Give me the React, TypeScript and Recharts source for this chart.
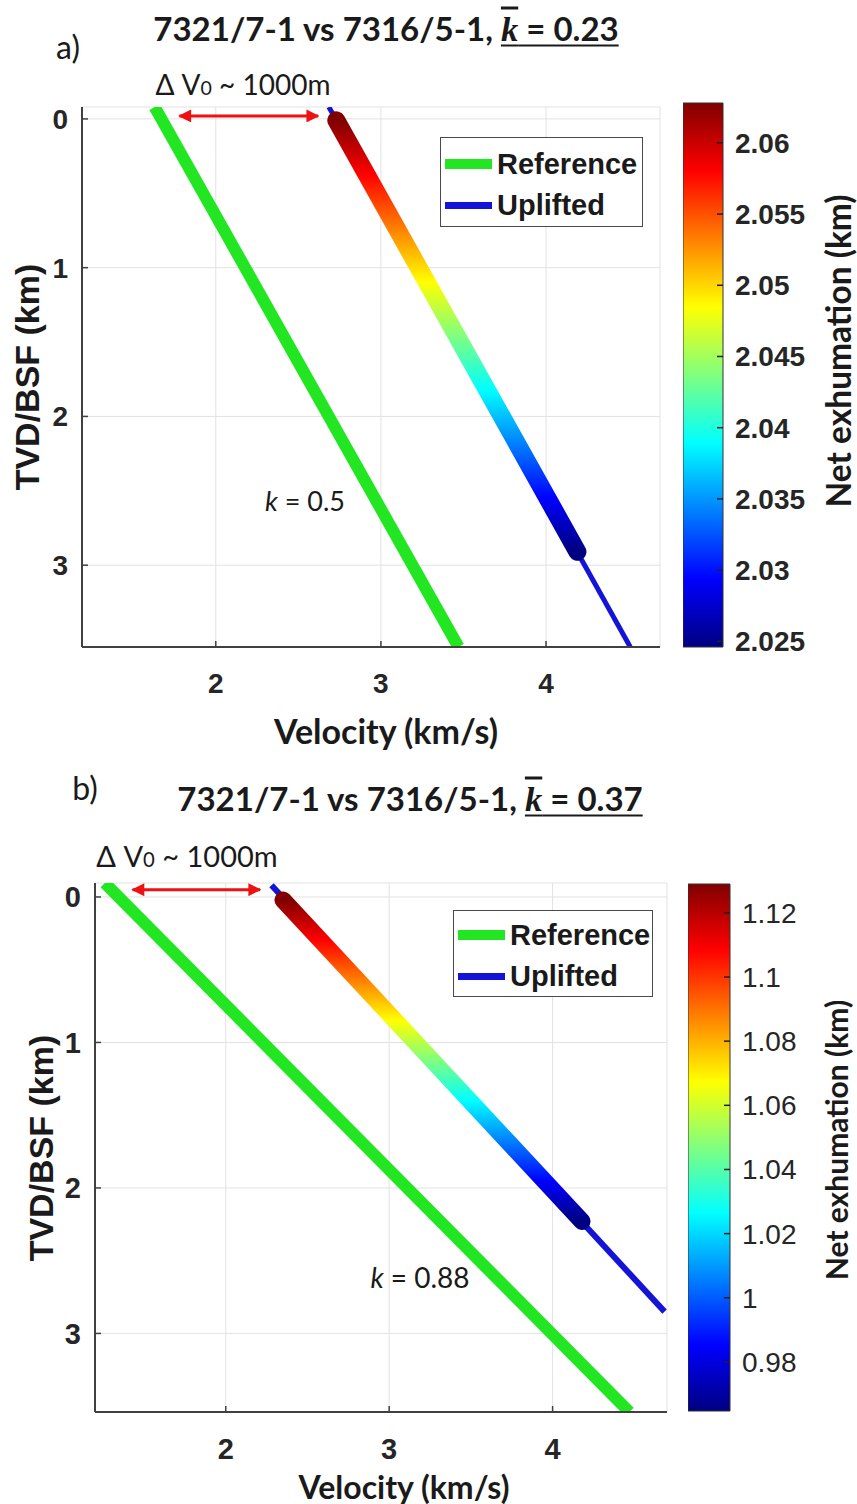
import React from 'react';
import {
  LineChart,
  Line,
  XAxis,
  YAxis,
  CartesianGrid,
  ReferenceLine,
  Legend,
  ComposedChart,
  ReferenceArea,
} from 'recharts';

// ---------- data ----------
const velocityTicks = [2, 3, 4];
const depthTicks = [0, 1, 2, 3];

// panel a
const velocityDomainA = [1.19, 4.69];
const depthDomainA = [-0.08, 3.55];
const referenceA = [
  { v: 1.63, z: -0.08 },
  { v: 3.47, z: 3.55 },
];
const upliftedA = [
  { v: 2.685, z: -0.08 },
  { v: 4.51, z: 3.55 },
];
const exhumationA = [
  { v: 2.73, z: 0.01 },
  { v: 4.19, z: 2.91 },
];
const deltaV0A = [
  { v: 1.78, z: -0.02 },
  { v: 2.62, z: -0.02 },
];
const exhumationTicksA = [2.025, 2.03, 2.035, 2.04, 2.045, 2.05, 2.055, 2.06];
const exhumationDomainA = [2.0246, 2.0628];

// panel b
const velocityDomainB = [1.2, 4.7];
const depthDomainB = [-0.096, 3.54];
const referenceB = [
  { v: 1.26, z: -0.096 },
  { v: 4.47, z: 3.54 },
];
const upliftedB = [
  { v: 2.28, z: -0.08 },
  { v: 4.685, z: 2.85 },
];
const exhumationB = [
  { v: 2.35, z: 0.02 },
  { v: 4.18, z: 2.23 },
];
const deltaV0B = [
  { v: 1.43, z: -0.05 },
  { v: 2.21, z: -0.05 },
];
const exhumationTicksB = [0.98, 1, 1.02, 1.04, 1.06, 1.08, 1.1, 1.12];
const exhumationDomainB = [0.9647, 1.129];

// jet colormap, top (high) to bottom (low)
const jetStops: [number, string][] = [
  [0, '#800000'],
  [0.125, '#ff0000'],
  [0.375, '#ffff00'],
  [0.625, '#00ffff'],
  [0.875, '#0000ff'],
  [1, '#000080'],
];

const GREEN = '#22e622';
const BLUE = '#1414d8';
const RED = '#ee1111';
const AXIS = '#404040';
const TEXT = '#1a1a1a';

const CALIBRI = 'Lato, "Open Sans", sans-serif';
const HELV = '"Liberation Sans", Arial, sans-serif';

const Txt = ({ x, y, rot = 0, style, children }: any) => (
  <div
    style={{
      position: 'absolute',
      left: x,
      top: y,
      transform: `translate(-50%, -50%) rotate(${rot}deg)`,
      whiteSpace: 'nowrap',
      lineHeight: 1,
      color: TEXT,
      ...style,
    }}
  >
    {children}
  </div>
);

const makeLegend = (rows: number[]) => (props: any) => {
  const payload = (props.payload || [])
    .filter((e: any) => e.type !== 'none' && (e.value === 'Reference' || e.value === 'Uplifted'))
    .slice()
    .sort((a: any, b: any) => (a.value < b.value ? -1 : 1));
  return (
    <div
      style={{
        position: 'relative',
        width: '100%',
        height: '100%',
        boxSizing: 'border-box',
        border: '1.5px solid #4a4a4a',
        background: '#fff',
      }}
    >
      {payload.map((e: any, i: number) => (
        <div
          key={e.value}
          style={{
            position: 'absolute',
            left: 4,
            top: rows[i] - 18,
            height: 36,
            display: 'flex',
            alignItems: 'center',
          }}
        >
          <div style={{ width: 47, height: e.value === 'Reference' ? 10 : 7, background: e.color }} />
          <span style={{ marginLeft: 5, font: `bold 29px ${HELV}`, color: TEXT }}>{e.value}</span>
        </div>
      ))}
    </div>
  );
};

const makeCbTick = (fontWeight: number) => (props: any) => {
  const { x, y, payload } = props;
  return (
    <g>
      <line x1={x - 18} x2={x - 12} y1={y} y2={y} stroke="#222" strokeWidth={1.5} />
      <text
        x={x}
        y={y}
        dy="0.355em"
        textAnchor="start"
        fill="#262626"
        style={{ fontFamily: HELV, fontSize: 28, fontWeight }}
      >
        {payload.value}
      </text>
    </g>
  );
};

function Panel(p: any) {
  const tickStyle = { fill: '#262626', fontSize: p.tickFont, fontWeight: 700, fontFamily: HELV };
  return (
    <div style={{ position: 'absolute', left: 0, top: p.top }}>
      <LineChart width={857} height={p.height} margin={p.margin}>
        <defs>
          <linearGradient id={`jet-line-${p.id}`} x1="0" y1="0" x2="0" y2="1">
            {jetStops.map(([o, c]) => (
              <stop key={o} offset={o} stopColor={c} />
            ))}
          </linearGradient>
          <marker
            id={`arrow-${p.id}`}
            viewBox="0 0 10 10"
            refX="9"
            refY="5"
            markerWidth="16"
            markerHeight="13"
            markerUnits="userSpaceOnUse"
            orient="auto-start-reverse"
          >
            <path d="M0,0 L10,5 L0,10 z" fill={RED} />
          </marker>
        </defs>
        <CartesianGrid stroke="#e2e2e2" strokeWidth={1} />
        <XAxis
          type="number"
          dataKey="v"
          domain={p.vDomain}
          ticks={velocityTicks}
          interval={0}
          allowDataOverflow
          height={40}
          tickSize={-6}
          tickMargin={p.xTickMargin}
          tick={tickStyle}
          axisLine={{ stroke: AXIS, strokeWidth: 2 }}
          tickLine={{ stroke: AXIS, strokeWidth: 1.5 }}
        />
        <YAxis
          type="number"
          reversed
          domain={p.zDomain}
          ticks={depthTicks}
          interval={0}
          allowDataOverflow
          width={60}
          tickSize={-6}
          tickMargin={20}
          tick={tickStyle}
          axisLine={{ stroke: AXIS, strokeWidth: 2 }}
          tickLine={{ stroke: AXIS, strokeWidth: 1.5 }}
        />
        <Line
          data={p.reference}
          dataKey="z"
          name="Reference"
          stroke={GREEN}
          strokeWidth={12}
          strokeLinecap="butt"
          dot={false}
          activeDot={false}
          isAnimationActive={false}
        />
        <Line
          data={p.uplifted}
          dataKey="z"
          name="Uplifted"
          stroke={BLUE}
          strokeWidth={p.thinWidth}
          strokeLinecap="butt"
          dot={false}
          activeDot={false}
          isAnimationActive={false}
        />
        <Line
          data={p.exhumation}
          dataKey="z"
          name="Net exhumation"
          legendType="none"
          stroke={`url(#jet-line-${p.id})`}
          strokeWidth={p.thickWidth}
          strokeLinecap="round"
          dot={false}
          activeDot={false}
          isAnimationActive={false}
        />
        <ReferenceLine
          segment={[
            { x: p.arrow[0].v, y: p.arrow[0].z },
            { x: p.arrow[1].v, y: p.arrow[1].z },
          ]}
          stroke={RED}
          strokeWidth={3}
          markerStart={`url(#arrow-${p.id})`}
          markerEnd={`url(#arrow-${p.id})`}
        />
        <Legend
          layout="vertical"
          align="center"
          verticalAlign="middle"
          content={makeLegend(p.legendRows)}
          wrapperStyle={p.legendStyle}
        />
      </LineChart>
    </div>
  );
}

const CB_PAD = 24;

function Colorbar(p: any) {
  return (
    <div style={{ position: 'absolute', left: p.left, top: p.top - CB_PAD }}>
      <ComposedChart
        width={p.width}
        height={p.height + 2 * CB_PAD}
        margin={{ top: CB_PAD, right: 0, bottom: CB_PAD, left: 0 }}
        data={[{ x: 0 }, { x: 1 }]}
      >
        <defs>
          <linearGradient id={`jet-bar-${p.id}`} x1="0" y1="0" x2="0" y2="1">
            {jetStops.map(([o, c]) => (
              <stop key={o} offset={o} stopColor={c} />
            ))}
          </linearGradient>
        </defs>
        <XAxis type="number" dataKey="x" domain={[0, 1]} allowDataOverflow hide />
        <YAxis
          type="number"
          orientation="right"
          domain={p.domain}
          ticks={p.ticks}
          interval={0}
          allowDataOverflow
          width={p.width - p.barWidth}
          axisLine={false}
          tickLine={false}
          tickSize={0}
          tickMargin={12}
          tick={makeCbTick(p.fontWeight)}
        />
        <ReferenceArea
          x1={0}
          x2={1}
          y1={p.domain[0]}
          y2={p.domain[1]}
          fill={`url(#jet-bar-${p.id})`}
          fillOpacity={1}
          stroke="#333"
          strokeWidth={1}
          ifOverflow="visible"
        />
      </ComposedChart>
    </div>
  );
}

const KBar = ({ value }: { value: string }) => (
  <span style={{ textDecoration: 'underline', textDecorationThickness: 2, textUnderlineOffset: 4 }}>
    <span
      style={{
        fontFamily: '"Liberation Serif", serif',
        fontStyle: 'italic',
        textDecoration: 'overline',
        fontSize: '1.05em',
      }}
    >
      k
    </span>
    {` = ${value}`}
  </span>
);

export default function App() {
  return (
    <div
      style={{
        position: 'absolute',
        left: 0,
        top: 0,
        width: 857,
        height: 1504,
        background: '#fff',
        overflow: 'hidden',
      }}
    >
      {/* panel a */}
      <Panel
        id="a"
        top={0}
        height={760}
        margin={{ top: 107, right: 197, bottom: 73, left: 22 }}
        vDomain={velocityDomainA}
        zDomain={depthDomainA}
        reference={referenceA}
        uplifted={upliftedA}
        exhumation={exhumationA}
        arrow={deltaV0A}
        tickFont={28}
        xTickMargin={32}
        thinWidth={5}
        thickWidth={18}
        legendRows={[26, 67]}
        legendStyle={{ left: 440, top: 137, width: 203, height: 90 }}
      />
      <Colorbar
        id="a"
        left={683}
        top={103}
        width={174}
        height={544}
        barWidth={40}
        domain={exhumationDomainA}
        ticks={exhumationTicksA}
        fontWeight={700}
      />
      <Txt x={68} y={46} style={{ font: `32px ${CALIBRI}` }}>a)</Txt>
      <Txt x={386} y={28} style={{ font: `bold 33px ${CALIBRI}` }}>
        7321/7-1 vs 7316/5-1, <KBar value="0.23" />
      </Txt>
      <Txt x={243} y={84} style={{ font: `28px ${CALIBRI}` }}>
        Δ V<span style={{ fontSize: '0.7em' }}>0</span> ~ 1000m
      </Txt>
      <Txt x={305} y={500} style={{ font: `27px ${CALIBRI}` }}>
        <i>k</i> = 0.5
      </Txt>
      <Txt x={386} y={730} style={{ font: `bold 34px ${CALIBRI}` }}>Velocity (km/s)</Txt>
      <Txt x={27} y={377} rot={-90} style={{ font: `bold 34px ${HELV}` }}>TVD/BSF (km)</Txt>
      <Txt x={838} y={351} rot={-90} style={{ font: `bold 33.5px ${CALIBRI}` }}>Net exhumation (km)</Txt>

      {/* panel b */}
      <Panel
        id="b"
        top={760}
        height={744}
        margin={{ top: 123, right: 190, bottom: 52, left: 35 }}
        vDomain={velocityDomainB}
        zDomain={depthDomainB}
        reference={referenceB}
        uplifted={upliftedB}
        exhumation={exhumationB}
        arrow={deltaV0B}
        tickFont={29}
        xTickMargin={32}
        thinWidth={6}
        thickWidth={17}
        legendRows={[24, 65]}
        legendStyle={{ left: 453, top: 150, width: 200, height: 87 }}
      />
      <Colorbar
        id="b"
        left={688}
        top={884}
        width={169}
        height={527}
        barWidth={42}
        domain={exhumationDomainB}
        ticks={exhumationTicksB}
        fontWeight={400}
      />
      <Txt x={85} y={787} style={{ font: `32px ${CALIBRI}` }}>b)</Txt>
      <Txt x={410} y={798} style={{ font: `bold 33px ${CALIBRI}` }}>
        7321/7-1 vs 7316/5-1, <KBar value="0.37" />
      </Txt>
      <Txt x={187} y={855} style={{ font: `29px ${CALIBRI}` }}>
        Δ V<span style={{ fontSize: '0.7em' }}>0</span>{'  '}~ 1000m
      </Txt>
      <Txt x={420} y={1277} style={{ font: `28px ${CALIBRI}` }}>
        <i>k</i> = 0.88
      </Txt>
      <Txt x={404} y={1486} style={{ font: `bold 32px ${CALIBRI}` }}>Velocity (km/s)</Txt>
      <Txt x={41} y={1148} rot={-90} style={{ font: `bold 34px ${HELV}` }}>TVD/BSF (km)</Txt>
      <Txt x={836} y={1140} rot={-90} style={{ font: `bold 30px ${CALIBRI}` }}>Net exhumation (km)</Txt>
    </div>
  );
}
